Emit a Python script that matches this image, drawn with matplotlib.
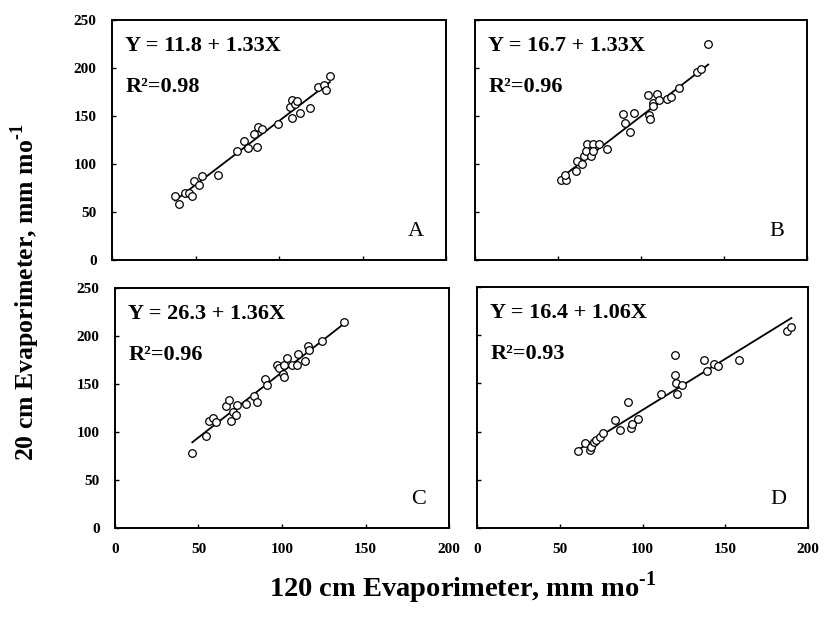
#!/usr/bin/env python3

import matplotlib
matplotlib.use("Agg")
import matplotlib.pyplot as plt

# values
a_x = [37.7, 40.1, 43.7, 46.3, 47.7, 49.3, 52.3, 53.7, 63.7, 75.0, 79.0, 81.6, 85.0, 86.6,
       87.6, 89.6, 99.2, 106.6, 107.6, 108.0, 109.6, 111.0, 112.6, 118.6, 123.5, 127.0, 128.1, 130.5]
a_y = [67.0, 58.3, 69.4, 70.1, 67.0, 82.3, 78.1, 87.8, 88.5, 113.9, 124.3, 116.3, 131.3, 118.0,
       138.2, 136.0, 141.3, 159.7, 166.7, 147.6, 162.2, 166.0, 152.8, 158.0, 179.9, 182.3, 177.0, 191.7]

b_x = [51.6, 54.8, 54.2, 60.8, 61.2, 64.3, 65.7, 67.7, 66.9, 69.7, 71.3, 70.9, 74.9, 79.3, 89.0, 90.4,
       93.4, 95.8, 104.4, 105.0, 105.4, 107.0, 107.4, 109.4, 111.0, 115.8, 117.9, 123.1, 133.9, 136.0, 140.5]
b_y = [83.7, 83.0, 88.9, 92.4, 102.8, 100.4, 108.0, 120.3, 113.3, 108.0, 120.3, 113.3, 121.3, 115.8, 151.7, 143.0,
       133.2, 152.7, 171.5, 150.6, 146.4, 163.9, 160.4, 172.6, 166.6, 167.4, 170.2, 179.6, 195.3, 198.7, 224.9]

c_x = [46.3, 54.5, 56.5, 58.9, 60.5, 66.5, 68.4, 69.3, 70.5, 72.5, 73.0, 78.4, 83.2, 84.8, 89.8,
       91.2, 96.8, 98.4, 100.4, 101.2, 101.4, 102.8, 105.8, 108.8, 109.8, 113.8, 115.8, 116.4, 123.8, 137.3]
c_y = [78.1, 95.5, 111.8, 114.6, 110.4, 126.7, 133.7, 111.1, 120.8, 117.4, 128.5, 129.2, 137.2, 131.3, 155.6,
       149.3, 170.1, 166.7, 160.4, 157.0, 169.4, 177.1, 170.1, 170.1, 181.3, 174.3, 189.2, 185.8, 195.1, 214.6]

d_x = [61.0, 65.0, 68.0, 68.6, 70.4, 72.0, 74.4, 76.4, 83.6, 86.4, 91.0, 93.0, 93.6, 97.0,
       111.0, 119.6, 119.6, 120.0, 120.6, 123.6, 137.0, 139.0, 143.0, 145.6, 158.4, 187.5, 190.0]
d_y = [79.4, 88.3, 80.4, 83.9, 89.6, 91.6, 94.1, 98.5, 112.0, 101.8, 130.4, 103.3, 107.7, 112.8,
       139.3, 179.8, 158.7, 150.2, 139.3, 148.5, 174.0, 162.8, 169.6, 167.9, 174.7, 203.9, 208.0]

intercepts = [11.8, 16.7, 26.3, 16.4]
slopes = [1.33, 1.33, 1.36, 1.06]
r2 = ["0.98", "0.96", "0.96", "0.93"]
letters = ["A", "B", "C", "D"]

plt.rcParams["font.family"] = ["Liberation Serif", "DejaVu Serif"]
plt.rcParams["mathtext.fontset"] = "custom"
plt.rcParams["mathtext.rm"] = "Liberation Serif:bold"

fig = plt.figure(figsize=(8.26, 6.30), dpi=100)

rects = [
    [0.1356, 0.5873, 0.4044, 0.3810],
    [0.5751, 0.5873, 0.4019, 0.3810],
    [0.1392, 0.1619, 0.4044, 0.3810],
    [0.5775, 0.1619, 0.4007, 0.3826],
]
xs = [a_x, b_x, c_x, d_x]
ys = [a_y, b_y, c_y, d_y]

for i in range(4):
    ax = fig.add_axes(rects[i])
    ax.scatter(xs[i], ys[i], s=30, facecolors="white", edgecolors="black", linewidths=0.9, zorder=3)
    x0, x1 = min(xs[i]), max(xs[i])
    ax.plot([x0, x1], [intercepts[i] + slopes[i] * x0, intercepts[i] + slopes[i] * x1],
            color="black", lw=1.3, zorder=2)
    ax.set_xlim(0, 200)
    ax.set_ylim(0, 250)
    ax.set_xticks([0, 50, 100, 150, 200])
    ax.set_yticks([0, 50, 100, 150, 200, 250])
    ax.tick_params(direction="in", length=3, width=1, labelsize=11, pad=11)
    for lab in ax.get_xticklabels() + ax.get_yticklabels():
        lab.set_fontweight("bold")
    if i < 2:
        ax.tick_params(labelbottom=False)
    if i % 2 == 1:
        ax.tick_params(labelleft=False)
    for sp in ax.spines.values():
        sp.set_linewidth(1.4)

    ax.text(0.04, 0.89, f"Y = {intercepts[i]} + {slopes[i]:.2f}X", transform=ax.transAxes,
            fontsize=16, fontweight="bold", ha="left", va="center")
    ax.text(0.04, 0.72, f"R²={r2[i]}", transform=ax.transAxes,
            fontsize=16, fontweight="bold", ha="left", va="center")
    ax.text(0.91, 0.12, letters[i], transform=ax.transAxes, fontsize=16, ha="center", va="center")

fig.text(0.031, 0.536, r"20 cm Evaporimeter, mm mo$^{\text{-1}}$", rotation=90,
         fontsize=18.5, fontweight="bold", ha="center", va="center")
fig.text(0.56, 0.067, r"120 cm Evaporimeter, mm mo$^{\text{-1}}$",
         fontsize=20.5, fontweight="bold", ha="center", va="center")

plt.savefig("out.png", dpi=100)
